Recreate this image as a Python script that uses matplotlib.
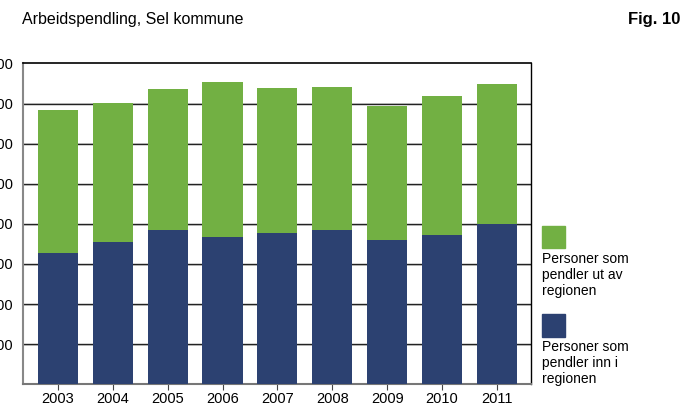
"""
Arbeidspendling, Sel kommune - stacked bars, inn/ut pendling per year.
"""

import numpy as np
import matplotlib
matplotlib.use('Agg')
from matplotlib import pyplot as plt
from matplotlib.patches import Rectangle

plt.rcParams['font.family'] = ['Liberation Sans', 'DejaVu Sans']

# Data
years = ['2003', '2004', '2005', '2006', '2007', '2008', '2009', '2010', '2011']
inn = [656, 710, 770, 735, 755, 770, 720, 745, 800]      # pendler inn i regionen
ut = [712, 693, 703, 773, 723, 713, 668, 693, 698]       # pendler ut av regionen
yticks = [200, 400, 600, 800, 1000, 1200, 1400, 1600]
ytick_labels = ['200', '400', '600', '800', '1 000', '1 200', '1 400', '1 600']

green = '#72b043'
blue = '#2c4171'

fig = plt.figure(figsize=(6.84, 4.08), dpi=100)
ax = fig.add_axes([0.0332, 0.0581, 0.7431, 0.7863])

x = np.arange(len(years))
ax.bar(x, inn, width=0.73, color=blue, zorder=3)
ax.bar(x, ut, width=0.73, bottom=inn, color=green, zorder=3)

ax.set_xlim(-0.64, 8.62)
ax.set_ylim(0, 1600)
ax.set_xticks(x)
ax.set_xticklabels(years, fontsize=10.5)
ax.set_yticks(yticks)
ax.set_yticklabels(ytick_labels, fontsize=10.5)
ax.tick_params(axis='y', length=0, pad=7)
ax.tick_params(axis='x', length=4, width=0.8, color='#444444', pad=1.5)

# horizontal gridlines (dark line with faint shadow)
for yv in yticks[:-1]:
    ax.axhline(yv - 4, color='#cccccc', lw=1.2, zorder=1)
    ax.axhline(yv, color='#222222', lw=1.0, zorder=2)

ax.spines['top'].set_color('black')
ax.spines['top'].set_linewidth(1.2)
ax.spines['right'].set_color('black')
ax.spines['right'].set_linewidth(1.0)
ax.spines['left'].set_color('#888888')
ax.spines['left'].set_linewidth(1.5)
ax.spines['bottom'].set_color('#777777')
ax.spines['bottom'].set_linewidth(1.5)

# titles
fig.text(0.0322, 0.952, 'Arbeidspendling, Sel kommune', fontsize=11.5, va='center', ha='left')
fig.text(0.994, 0.952, 'Fig. 10', fontsize=12, fontweight='bold', va='center', ha='right')

# legend drawn by hand
fig.add_artist(Rectangle((542 / 684, 1 - 248 / 408), 23 / 684, 22 / 408,
                         transform=fig.transFigure, color=green))
fig.text(542 / 684, 1 - 252 / 408, 'Personer som\npendler ut av\nregionen',
         fontsize=10, va='top', ha='left', linespacing=1.2)
fig.add_artist(Rectangle((542 / 684, 1 - 337 / 408), 23 / 684, 23 / 408,
                         transform=fig.transFigure, color=blue))
fig.text(542 / 684, 1 - 340 / 408, 'Personer som\npendler inn i\nregionen',
         fontsize=10, va='top', ha='left', linespacing=1.2)

plt.savefig('out.png', dpi=100)
